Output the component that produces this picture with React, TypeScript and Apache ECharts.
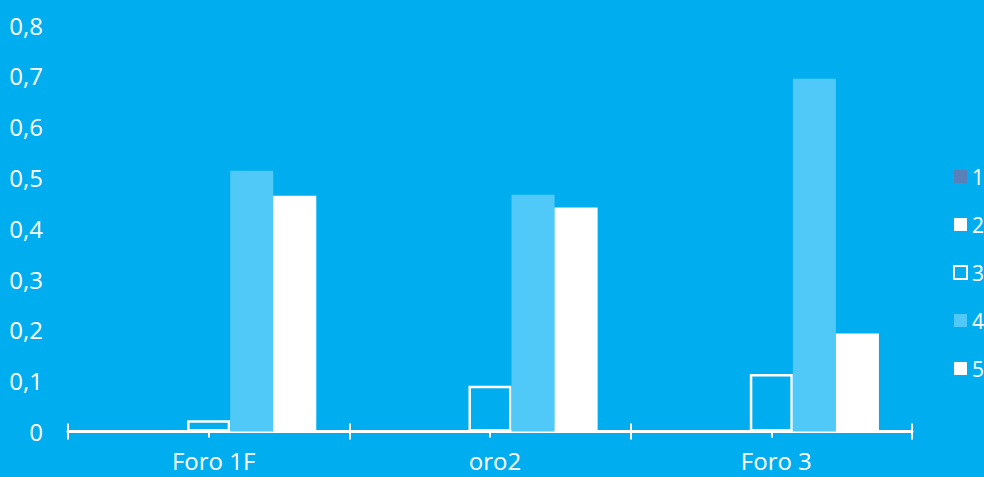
import React, { useEffect, useRef } from "react";
import * as echarts from "echarts";

const categories = ["Foro 1F", "oro2", "Foro 3"];
const seriesNames = ["1", "2", "3", "4", "5"];
const s1 = [0, 0, 0];
const s2 = [0, 0, 0];
const s3 = [0.022, 0.09, 0.113];
const s4 = [0.513, 0.466, 0.694];
const s5 = [0.464, 0.441, 0.193];
const yTicks = [0, 0.1, 0.2, 0.3, 0.4, 0.5, 0.6, 0.7, 0.8];

const BG = "#00AEEF";
const FONT = "'Open Sans', 'Noto Sans', sans-serif";

export default function App() {
  const ref = useRef<HTMLDivElement>(null);
  useEffect(() => {
    if (!ref.current) return;
    const chart = echarts.init(ref.current, null, { renderer: "svg" });
    const tickAxis = (len: number, inside: boolean, align: boolean) => ({
      type: "category",
      data: categories,
      position: "bottom",
      axisLine: { show: false },
      axisLabel: { show: false },
      splitLine: { show: false },
      axisTick: {
        show: true,
        inside,
        length: len,
        alignWithLabel: align,
        lineStyle: { color: "#ffffff", width: 2 },
      },
    });
    const bar = (name: string, data: number[], itemStyle: any) => ({
      name,
      type: "bar",
      data,
      xAxisIndex: 0,
      barGap: "0%",
      barCategoryGap: "23.5%",
      itemStyle,
    });
    chart.setOption({
      animation: false,
      backgroundColor: BG,
      textStyle: { fontFamily: FONT },
      grid: { left: 68, right: 72, top: 25, bottom: 45.5, containLabel: false },
      legend: {
        orient: "vertical",
        left: 953,
        top: 165.5,
        padding: 0,
        icon: "rect",
        itemWidth: 13,
        itemHeight: 13,
        itemGap: 26,
        data: seriesNames,
        textStyle: { color: "#ffffff", fontSize: 21, lineHeight: 22, fontFamily: FONT },
      },
      xAxis: [
        {
          type: "category",
          data: categories,
          position: "bottom",
          axisLine: { show: true, lineStyle: { color: "#ffffff", width: 3 } },
          axisTick: { show: true, length: 8, lineStyle: { color: "#ffffff", width: 2 } },
          axisLabel: {
            color: "#ffffff",
            fontSize: 24,
            margin: 17,
            fontFamily: FONT,
            padding: [0, 0, 0, 10],
          },
          splitLine: { show: false },
        },
        tickAxis(8, true, false),
        tickAxis(6, false, true),
        tickAxis(6, true, true),
      ],
      yAxis: {
        type: "value",
        min: 0,
        max: 0.8,
        interval: 0.1,
        axisLine: { show: false },
        axisTick: { show: false },
        splitLine: { show: false },
        axisLabel: {
          color: "#ffffff",
          fontSize: 24,
          margin: 25,
          fontFamily: FONT,
          formatter: (v: number) => {
            const t = yTicks.find((x) => Math.abs(x - v) < 1e-9);
            return String(t !== undefined ? t : v).replace(".", ",");
          },
        },
      },
      series: [
        bar(seriesNames[0], s1, { color: "#5A80BA" }),
        bar(seriesNames[1], s2, { color: "#ffffff" }),
        bar(seriesNames[2], s3, { color: BG, borderColor: "#ffffff", borderWidth: 2.5 }),
        bar(seriesNames[3], s4, { color: "#50C8F8" }),
        bar(seriesNames[4], s5, { color: "#ffffff" }),
      ],
    });
    return () => chart.dispose();
  }, []);
  return <div ref={ref} style={{ width: 984, height: 477, position: "fixed", left: 0, top: 0 }} />;
}
